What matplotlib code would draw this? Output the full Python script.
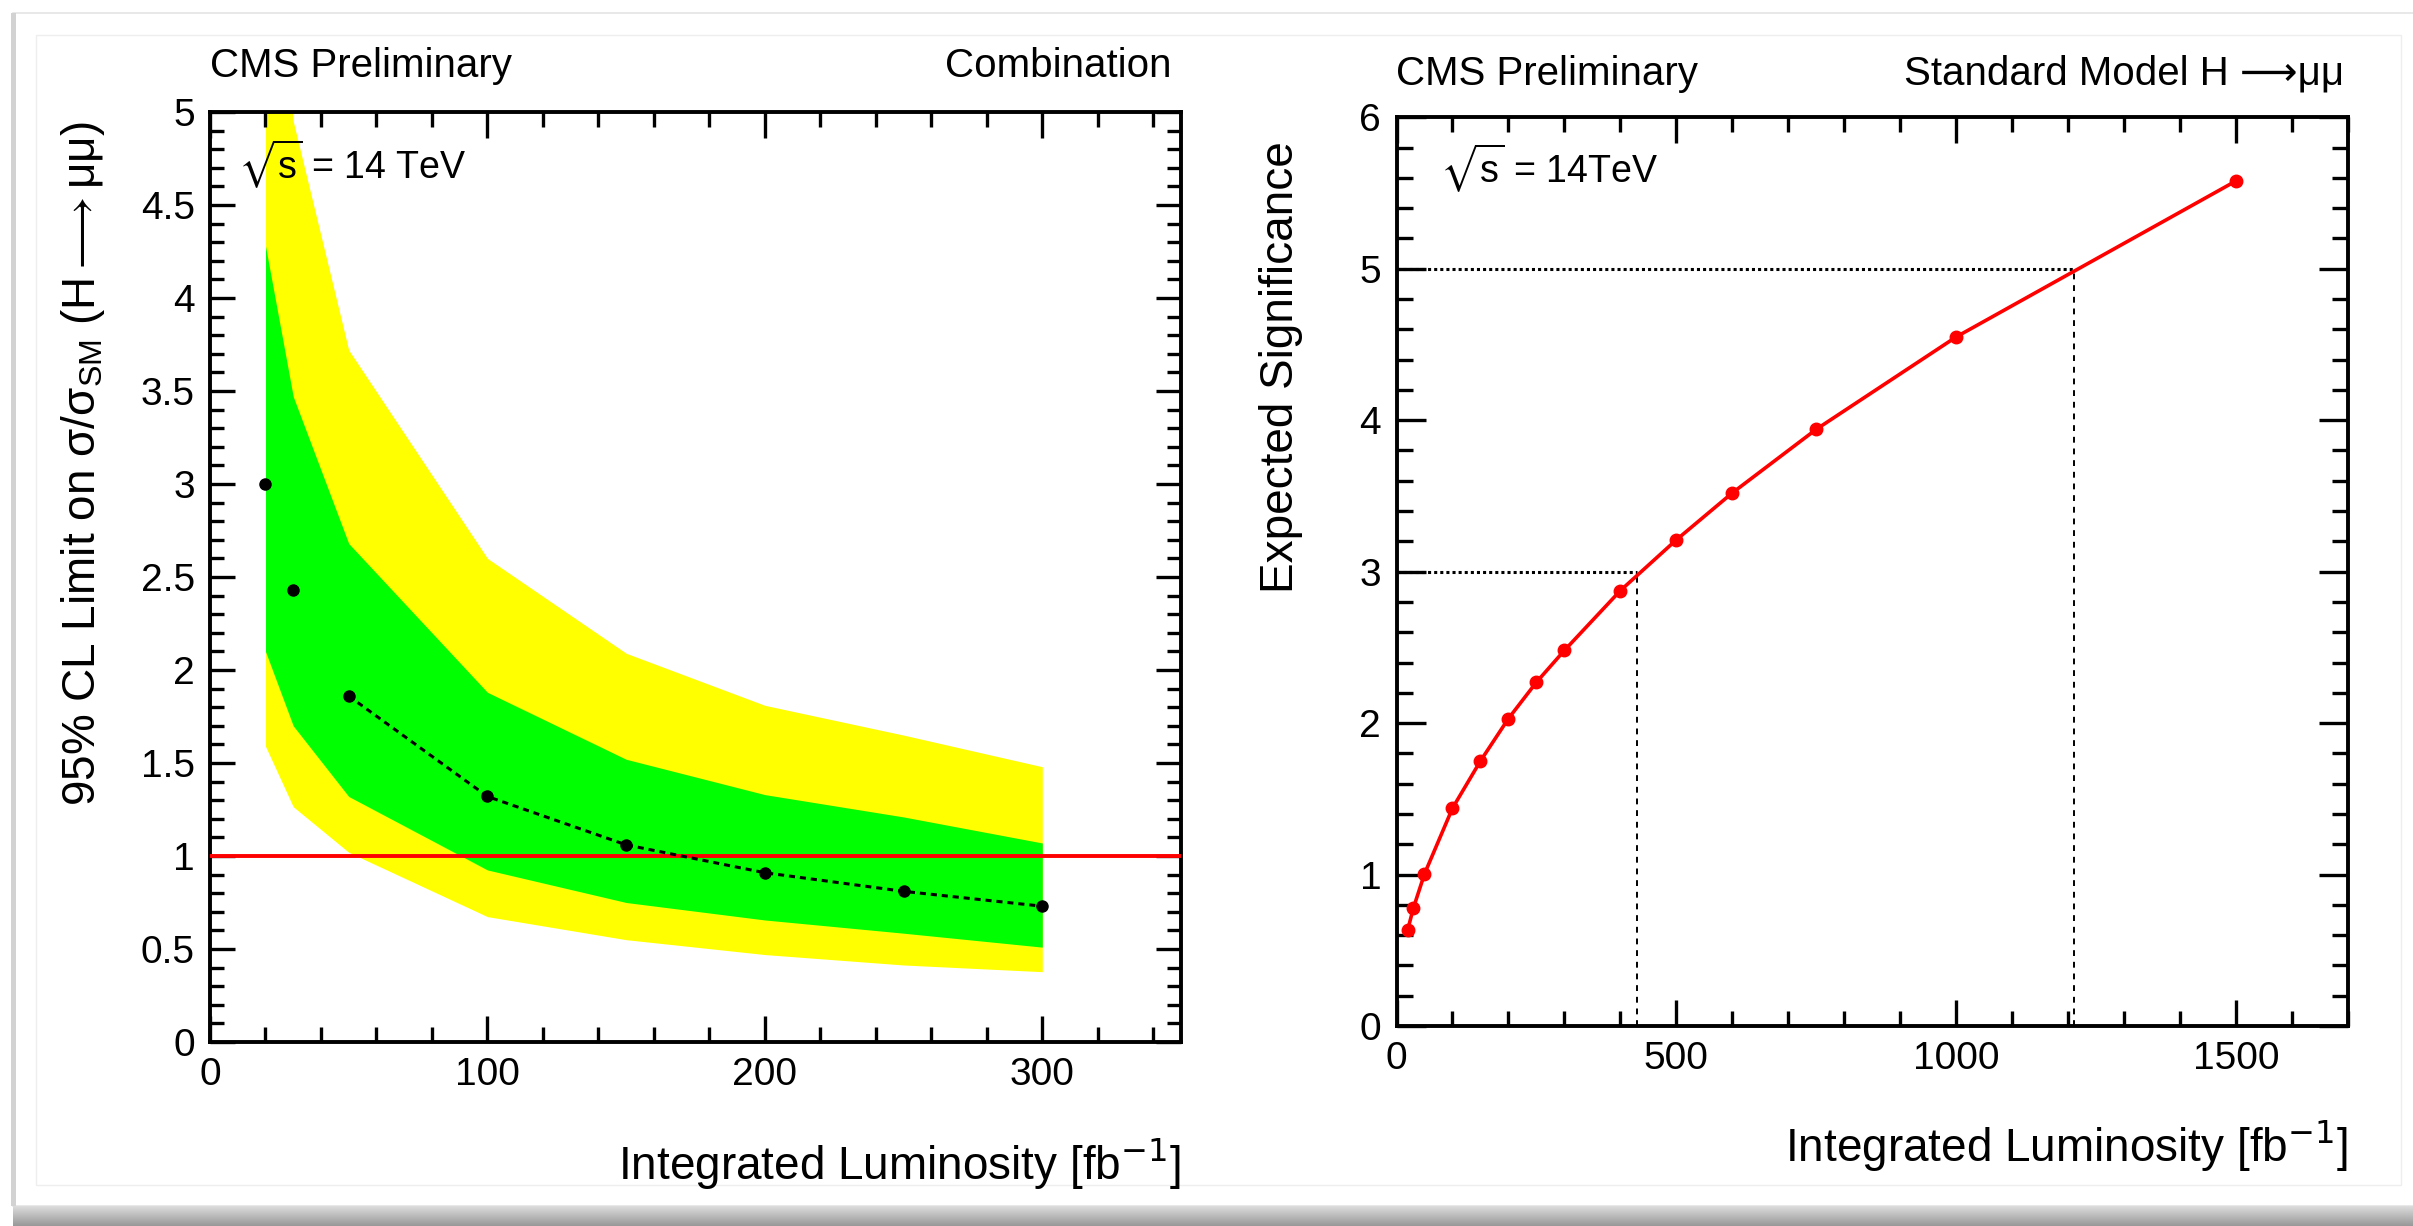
import numpy as np
import matplotlib
matplotlib.use("Agg")
import matplotlib.pyplot as plt
from matplotlib.patches import Rectangle
from matplotlib.ticker import MultipleLocator, FuncFormatter

plt.rcParams['font.family'] = ['Liberation Sans', 'DejaVu Sans']
plt.rcParams['mathtext.fontset'] = 'custom'
plt.rcParams['mathtext.rm'] = 'Liberation Sans'
plt.rcParams['mathtext.it'] = 'Liberation Sans'
plt.rcParams['mathtext.bf'] = 'Liberation Sans:bold'
plt.rcParams['mathtext.fallback'] = 'stixsans'

# ---------------- data ----------------
# Left panel: expected 95% CL limit vs integrated luminosity
lumi_limit = [20, 30, 50, 100, 150, 200, 250, 300]
expected_limit = [3.00, 2.43, 1.86, 1.32, 1.06, 0.91, 0.81, 0.73]
band_1sigma_up = [4.28, 3.47, 2.68, 1.88, 1.52, 1.33, 1.21, 1.07]
band_1sigma_dn = [2.10, 1.70, 1.32, 0.925, 0.75, 0.656, 0.585, 0.51]
band_2sigma_up = [6.50, 4.95, 3.72, 2.60, 2.09, 1.81, 1.65, 1.48]
band_2sigma_dn = [1.59, 1.265, 1.02, 0.674, 0.55, 0.47, 0.414, 0.378]
sm_reference = 1.0

# Right panel: expected significance vs integrated luminosity
lumi_sig = [20, 30, 50, 100, 150, 200, 250, 300, 400, 500, 600, 750, 1000, 1500]
significance = [0.634, 0.777, 1.004, 1.438, 1.75, 2.03, 2.27, 2.48, 2.875,
                3.21, 3.52, 3.94, 4.55, 5.58]
threshold_sig = [3, 5]
threshold_lumi = [430, 1210]

# ---------------- figure ----------------
W, H = 2413, 1226
fig = plt.figure(figsize=(W / 100, H / 100), dpi=100)
fig.patch.set_facecolor('white')


def fx(px):
    return px / W


def fy(py):
    return 1 - py / H


def rect_px(x0, y0, x1, y1, **kw):
    r = Rectangle((fx(x0), fy(y1)), (x1 - x0) / W, (y1 - y0) / H,
                  transform=fig.transFigure, **kw)
    fig.add_artist(r)
    return r


# card decoration
rect_px(13, 13, 2420, 1206, facecolor='white', edgecolor='#e4e4e4', lw=1.2, zorder=-10)
rect_px(11, 13, 16, 1206, facecolor='#d2d2d2', edgecolor='none', zorder=-9)
rect_px(36, 35, 2401, 1185, facecolor='none', edgecolor='#eeeeee', lw=1.0, zorder=-8)
gax = fig.add_axes([fx(13), 0, 1 - fx(13), 20 / H])
grad = np.linspace(0.86, 0.60, 20)[:, None] * np.ones((1, 50))
gax.imshow(grad, aspect='auto', cmap='gray', vmin=0, vmax=1, interpolation='bilinear')
gax.axis('off')
gax.set_zorder(-5)

TICK_FS = 28
LABEL_FS = 33
TEXT_FS = 29


def style_axes(ax, xmaj, xmin, ymaj, ymin, ylen_major, xlen_major):
    for sp in ax.spines.values():
        sp.set_linewidth(2.8)
        sp.set_color('black')
    ax.xaxis.set_major_locator(MultipleLocator(xmaj))
    ax.xaxis.set_minor_locator(MultipleLocator(xmin))
    ax.yaxis.set_major_locator(MultipleLocator(ymaj))
    ax.yaxis.set_minor_locator(MultipleLocator(ymin))
    fmt = FuncFormatter(lambda v, p: '%g' % v)
    ax.xaxis.set_major_formatter(fmt)
    ax.yaxis.set_major_formatter(fmt)
    ax.tick_params(axis='both', which='both', direction='in', top=True, right=True,
                   width=2.4, color='black', labelsize=TICK_FS)
    ax.tick_params(axis='x', which='major', length=xlen_major, pad=11)
    ax.tick_params(axis='x', which='minor', length=xlen_major * 0.55)
    ax.tick_params(axis='y', which='major', length=ylen_major, pad=11)
    ax.tick_params(axis='y', which='minor', length=ylen_major * 0.55)


# ---------------- left panel ----------------
axL = fig.add_axes([fx(210), fy(1042), (1181 - 210) / W, (1042 - 112) / H])
axL.fill_between(lumi_limit, band_2sigma_dn, band_2sigma_up, color='#ffff00', lw=0, zorder=1)
axL.fill_between(lumi_limit, band_1sigma_dn, band_1sigma_up, color='#00ff00', lw=0, zorder=2)
axL.axhline(sm_reference, color='#ff0000', lw=2.8, zorder=3)
axL.plot(lumi_limit[2:], expected_limit[2:], color='black', lw=2.2,
         ls=(0, (2, 1.6)), zorder=4)
axL.plot(lumi_limit, expected_limit, 'o', color='black', ms=8, zorder=5)
axL.set_xlim(0, 350)
axL.set_ylim(0, 5)
style_axes(axL, 100, 20, 0.5, 0.1, 18, 19)

axL.set_xlabel(r'Integrated Luminosity [fb$^{\mathsf{-1}}$]', fontsize=LABEL_FS,
               ha='right', va='baseline')
axL.xaxis.set_label_coords(1.0, -(1180 - 1042) / 930)
axL.set_ylabel(r'95% CL Limit on σ/σ$_{\mathrm{SM}}$ (H$\longrightarrow$μμ)',
               fontsize=LABEL_FS, va='center', ha='center')
axL.yaxis.set_label_coords((83 - 210) / 971, (1042 - 464) / 930)

axL.text(0.0, (1042 - 77) / 930, 'CMS Preliminary', transform=axL.transAxes,
         fontsize=TEXT_FS, ha='left', va='baseline')
axL.text(0.99, (1042 - 77) / 930, 'Combination', transform=axL.transAxes,
         fontsize=TEXT_FS, ha='right', va='baseline')
axL.text((238 - 210) / 971, (1042 - 178) / 930, r'$\sqrt{\mathrm{s}}$ = 14 TeV',
         transform=axL.transAxes, fontsize=27, ha='left', va='baseline', zorder=6)

# ---------------- right panel ----------------
axR = fig.add_axes([fx(1396.5), fy(1026), (2348 - 1396.5) / W, (1026 - 117.3) / H])
for s_val, l_val in zip(threshold_sig, threshold_lumi):
    axR.plot([0, l_val], [s_val, s_val], color='black', lw=2.2, ls=(0, (1, 1)), zorder=2)
    axR.plot([l_val, l_val], [0, s_val], color='black', lw=1.4, ls=(0, (3, 3)), zorder=2)
axR.plot(lumi_sig, significance, '-', color='#ff0000', lw=2.6, zorder=3)
axR.plot(lumi_sig, significance, 'o', color='#ff0000', ms=9, zorder=4)
axR.set_xlim(0, 1700)
axR.set_ylim(0, 6)
style_axes(axR, 500, 100, 1, 0.2, 21, 19)

axR.set_xlabel(r'Integrated Luminosity [fb$^{\mathsf{-1}}$]', fontsize=LABEL_FS,
               ha='right', va='baseline')
axR.xaxis.set_label_coords(1.0, -(1162 - 1026) / 908.7)
axR.set_ylabel('Expected Significance', fontsize=LABEL_FS, va='center', ha='center')
axR.yaxis.set_label_coords((1281 - 1396.5) / 951.5, (1026 - 367) / 908.7)

axR.text(0.0, (1026 - 85) / 908.7, 'CMS Preliminary', transform=axR.transAxes,
         fontsize=TEXT_FS, ha='left', va='baseline')
axR.text(0.996, (1026 - 85) / 908.7, 'Standard Model H \u27f6μμ',
         transform=axR.transAxes, fontsize=TEXT_FS, ha='right', va='baseline')
axR.text((1440 - 1396.5) / 951.5, (1026 - 182) / 908.7, r'$\sqrt{\mathrm{s}}$ = 14TeV',
         transform=axR.transAxes, fontsize=27, ha='left', va='baseline')

fig.savefig('out.png', dpi=100, facecolor=fig.get_facecolor())
